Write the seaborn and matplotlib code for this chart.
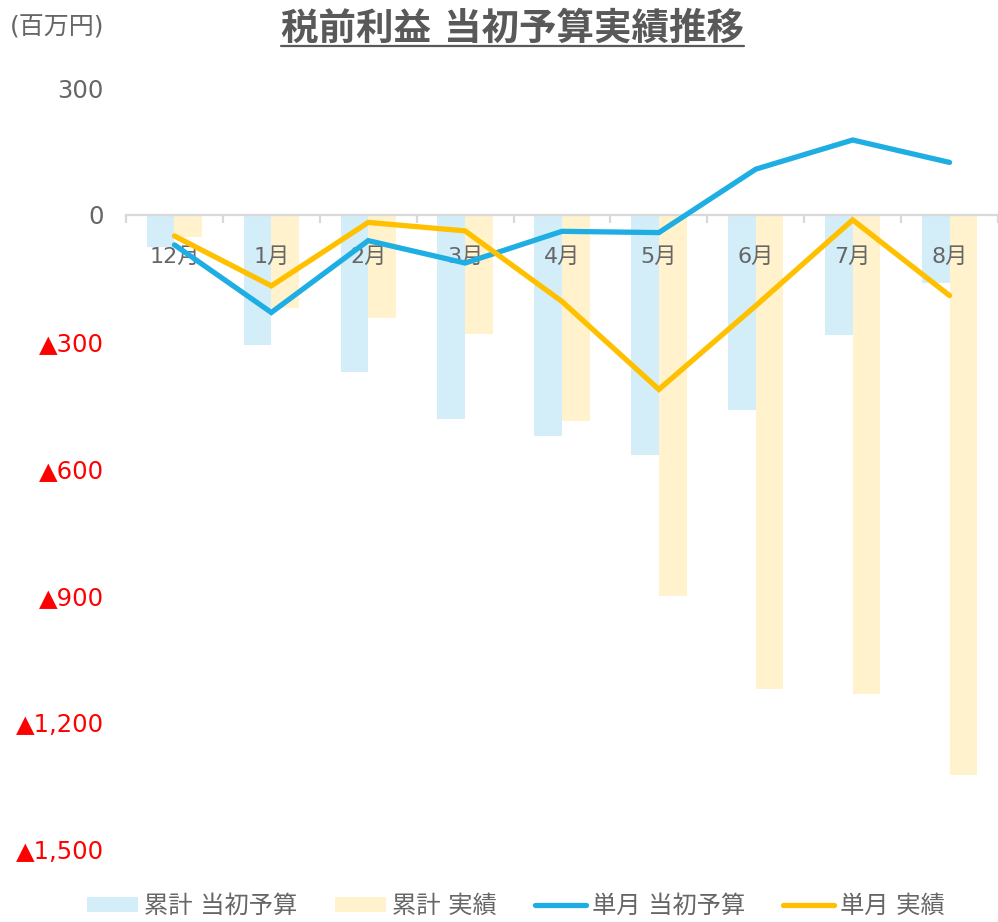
import numpy as np
import pandas as pd
import seaborn as sns
import matplotlib.pyplot as plt
from matplotlib.patches import Patch
from matplotlib.lines import Line2D
from matplotlib.ticker import FixedLocator, FuncFormatter

months = ["12月", "1月", "2月", "3月", "4月", "5月", "6月", "7月", "8月"]
cum_budget = [-77, -309, -372, -484, -524, -567, -461, -285, -161]
cum_actual = [-53, -221, -243, -282, -488, -902, -1121, -1134, -1326]
mon_budget = [-71, -231, -61, -114, -39, -42, 108, 177, 124]
mon_actual = [-50, -168, -18, -38, -205, -413, -215, -12, -191]
y_ticks = [300, 0, -300, -600, -900, -1200, -1500]

bar_names = ["累計 当初予算", "累計 実績"]
line_names = ["単月 当初予算", "単月 実績"]
bar_colors = ["#D3EEF8", "#FFF2CC"]
line_colors = ["#1EAEE3", "#FFC000"]
gray = "#666666"

sns.set_theme(style="white")
plt.rcParams["font.family"] = ["DejaVu Sans", "Noto Sans CJK JP"]

bars = pd.DataFrame({
    "month": months * 2,
    "value": cum_budget + cum_actual,
    "series": [bar_names[0]] * len(months) + [bar_names[1]] * len(months),
})

fig = plt.figure(figsize=(9.98, 9.22), dpi=100)
ax = fig.add_axes([126 / 998, 1 - 849 / 922, 1 - 126 / 998, (849 - 88) / 922])

sns.barplot(data=bars, x="month", y="value", hue="series", order=months,
            palette=bar_colors, width=0.57, saturation=1, linewidth=0,
            legend=False, ax=ax)

x = np.arange(len(months))
for vals, col in zip([mon_budget, mon_actual], line_colors):
    sns.lineplot(x=x, y=vals, color=col, linewidth=3.8, ax=ax,
                 solid_capstyle="round", solid_joinstyle="miter", zorder=4)

ax.set_axisbelow(False)
ax.set_xlim(-0.5, len(months) - 0.5)
ax.set_ylim(-1500, 300)
ax.set_xlabel("")
ax.set_ylabel("")

for s in ["top", "right", "left"]:
    ax.spines[s].set_visible(False)
ax.spines["bottom"].set_position(("data", 0))
ax.spines["bottom"].set_color("#D9D9D9")
ax.spines["bottom"].set_linewidth(1.6)

ax.set_xticks(x)
ax.set_xticklabels(months)
ax.xaxis.set_minor_locator(FixedLocator(np.arange(-0.5, len(months), 1)))
ax.tick_params(axis="x", which="major", length=0, pad=23, labelsize=16,
               labelcolor=gray)
ax.tick_params(axis="x", which="minor", length=6, width=1.6, color="#D9D9D9",
               direction="out", bottom=True)

ax.set_yticks(y_ticks)
ax.yaxis.set_major_formatter(FuncFormatter(
    lambda v, p: f"{int(v):,}" if v >= 0 else f"▲{int(-v):,}"))
ax.tick_params(axis="y", length=0, pad=16, labelsize=17.5)
for lab, v in zip(ax.get_yticklabels(), y_ticks):
    lab.set_color("#FF0000" if v < 0 else gray)

fig.text(10 / 998, 1 - 27 / 922, "(百万円)", ha="left", va="center",
         fontsize=18, color=gray)
title = fig.text(0.5135, 1 - 30 / 922, "税前利益 当初予算実績推移", ha="center",
                 va="center", fontsize=27, fontweight="bold", color="#595959")

handles = [Patch(facecolor=c, edgecolor="none") for c in bar_colors]
handles += [Line2D([], [], color=c, linewidth=3.8, solid_capstyle="round")
            for c in line_colors]
fig.legend(handles, bar_names + line_names, loc="center", ncol=4,
           bbox_to_anchor=(0.517, 1 - 906 / 922), frameon=False,
           fontsize=17.5, labelcolor=gray, handlelength=2.1, handleheight=0.58,
           handletextpad=0.25, columnspacing=1.55)

# underline the title
fig.canvas.draw()
bb = title.get_window_extent()
fig.add_artist(Line2D([bb.x0 / 998, bb.x1 / 998],
                      [1 - 46 / 922, 1 - 46 / 922],
                      color="#595959", linewidth=1.6))

fig.savefig("out.png", dpi=100)
